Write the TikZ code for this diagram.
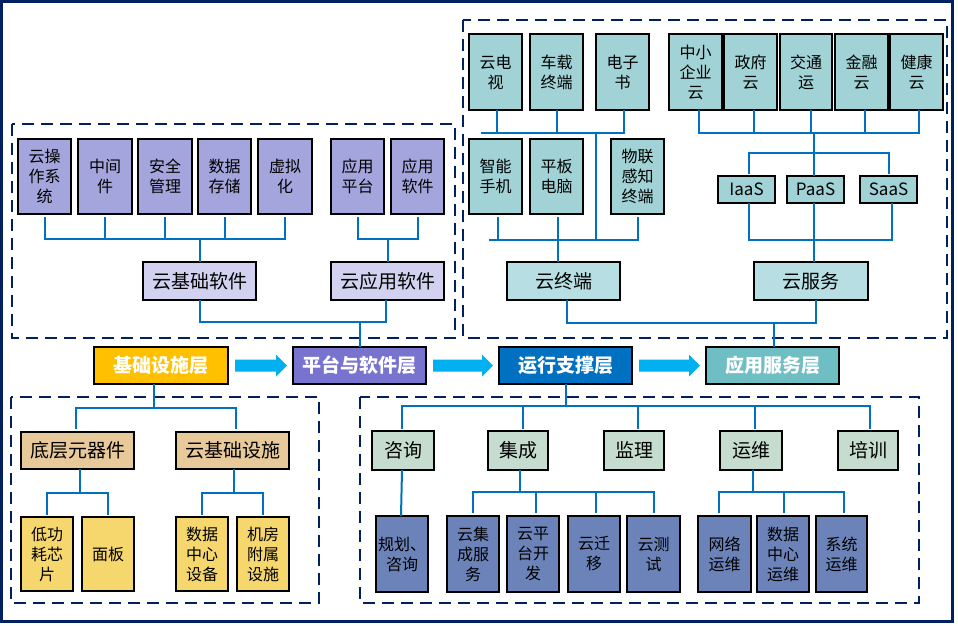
\documentclass[tikz,border=0pt]{standalone}
\usepackage{fontspec}
\setmainfont{Noto Sans CJK SC}
\usetikzlibrary{calc}
\definecolor{navy}{HTML}{002060}
\definecolor{connc}{HTML}{0070C0}
\definecolor{arrc}{HTML}{00B0F0}
\definecolor{lav}{HTML}{A5A5DE}
\definecolor{lavl}{HTML}{D2D2F0}
\definecolor{teal}{HTML}{A0D2D6}
\definecolor{teall}{HTML}{B7DEE3}
\definecolor{tan}{HTML}{E8C99A}
\definecolor{yel}{HTML}{F5D76E}
\definecolor{pgreen}{HTML}{C6DCCF}
\definecolor{slate}{HTML}{6B83B8}
\definecolor{cY}{HTML}{FFC000}
\definecolor{cP}{HTML}{7873CF}
\definecolor{cB}{HTML}{0070C0}
\definecolor{cT}{HTML}{6FBEC4}
\newcommand{\rbox}[7]{\node[#6, minimum width={#4-#2}, minimum height={#5-#3}] (#1) at ({(#2+#4)/2},{(#3+#5)/2}) {#7};}
\newcommand{\blkarrow}[2]{\fill[arrc] let \p1=(#1.east), \p2=(#2.west) in (\x1+7pt,\y1+6pt) -- (\x2-17pt,\y1+6pt) -- (\x2-17pt,\y1+11pt) -- (\x2-6pt,\y1) -- (\x2-17pt,\y1-11pt) -- (\x2-17pt,\y1-6pt) -- (\x1+7pt,\y1-6pt) -- cycle;}
\tikzset{
  base/.style={draw=black, line width=1.1pt, inner sep=0pt, outer sep=0pt, align=center, text=black},
  small/.style={base, font=\fontsize{16}{20}\selectfont},
  mid/.style={base, font=\fontsize{19}{22}\selectfont},
  lavbox/.style={small, fill=lav},
  lavmid/.style={mid, fill=lavl},
  tealbox/.style={small, fill=teal},
  tealmid/.style={mid, fill=teall},
  saasbox/.style={base, fill=teal, font=\fontsize{17}{20}\selectfont},
  tanmid/.style={mid, fill=tan},
  yelbox/.style={small, fill=yel},
  grnmid/.style={mid, fill=pgreen},
  slatebox/.style={small, fill=slate},
  layer/.style={base, text=white, font=\fontsize{19}{22}\selectfont\bfseries},
  conn/.style={draw=connc, line width=2pt},
  dashbox/.style={draw=navy, line width=2.2pt, dash pattern=on 12pt off 7pt},
}
\begin{document}
\begin{tikzpicture}[x=1pt,y=-1pt]
\useasboundingbox (0,0) rectangle (958,625);
\draw[navy, line width=3pt] (1.5,1.5) rectangle (952.5,621.5);
% dashed groups
\draw[dashbox] (12,124) rectangle (455,338);
\draw[dashbox] (463,20) rectangle (947,338);
\draw[dashbox] (11,397) rectangle (319,603);
\draw[dashbox] (360,397) rectangle (919,603);
% top-left
\rbox{os}{18}{139}{71}{214}{lavbox}{云操\\作系\\统}
\rbox{mw}{78}{139}{132}{214}{lavbox}{中间\\件}
\rbox{sec}{138}{139}{192}{214}{lavbox}{安全\\管理}
\rbox{sto}{198}{139}{251}{214}{lavbox}{数据\\存储}
\rbox{vir}{258}{139}{312}{214}{lavbox}{虚拟\\化}
\rbox{apf}{331}{139}{384}{214}{lavbox}{应用\\平台}
\rbox{asw}{391}{139}{444}{214}{lavbox}{应用\\软件}
\rbox{jcr}{143}{262}{256}{300}{lavmid}{云基础软件}
\rbox{yyr}{331}{262}{444}{300}{lavmid}{云应用软件}
% top-right
\rbox{tv}{469}{34}{522}{110}{tealbox}{云电\\视}
\rbox{car}{530}{34}{583}{110}{tealbox}{车载\\终端}
\rbox{ebk}{596}{34}{649}{110}{tealbox}{电子\\书}
\rbox{sme}{669}{34}{722}{110}{tealbox}{中小\\企业\\云}
\rbox{gov}{724}{34}{777}{110}{tealbox}{政府\\云}
\rbox{tra}{780}{34}{832}{110}{tealbox}{交通\\运}
\rbox{fin}{835}{34}{888}{110}{tealbox}{金融\\云}
\rbox{hlt}{890}{34}{943}{110}{tealbox}{健康\\云}
\rbox{phn}{469}{139}{522}{214}{tealbox}{智能\\手机}
\rbox{pad}{530}{139}{583}{214}{tealbox}{平板\\电脑}
\rbox{iot}{611}{139}{664}{214}{tealbox}{物联\\感知\\终端}
\rbox{iaas}{718}{176}{775}{203}{saasbox}{IaaS}
\rbox{paas}{787}{176}{844}{203}{saasbox}{PaaS}
\rbox{saas}{860}{176}{917}{203}{saasbox}{SaaS}
\rbox{ytm}{507}{262}{620}{300}{tealmid}{云终端}
\rbox{yfw}{754}{262}{868}{300}{tealmid}{云服务}
% layers
\rbox{ly1}{94}{347}{228}{384}{layer, fill=cY}{基础设施层}
\rbox{ly2}{293}{347}{426}{384}{layer, fill=cP}{平台与软件层}
\rbox{ly3}{499}{347}{632}{384}{layer, fill=cB}{运行支撑层}
\rbox{ly4}{706}{347}{839}{384}{layer, fill=cT}{应用服务层}
\blkarrow{ly1}{ly2}
\blkarrow{ly2}{ly3}
\blkarrow{ly3}{ly4}
% bottom-left
\rbox{dc}{21}{432}{134}{469}{tanmid}{底层元器件}
\rbox{jss}{176}{432}{289}{469}{tanmid}{云基础设施}
\rbox{chip}{21}{517}{73}{591}{yelbox}{低功\\耗芯\\片}
\rbox{pan}{82}{517}{134}{591}{yelbox}{面板}
\rbox{dcd}{176}{517}{228}{591}{yelbox}{数据\\中心\\设备}
\rbox{jf}{237}{517}{289}{591}{yelbox}{机房\\附属\\设施}
% bottom-right
\rbox{zx}{372}{431}{434}{470}{grnmid}{咨询}
\rbox{jch}{488}{431}{548}{470}{grnmid}{集成}
\rbox{jl}{604}{431}{664}{470}{grnmid}{监理}
\rbox{yw}{720}{431}{782}{470}{grnmid}{运维}
\rbox{px}{838}{431}{898}{470}{grnmid}{培训}
\rbox{gh}{376}{516}{428}{592}{slatebox}{规划、\\咨询}
\rbox{c1}{447}{516}{499}{592}{slatebox}{云集\\成服\\务}
\rbox{c2}{507}{516}{559}{592}{slatebox}{云平\\台开\\发}
\rbox{c3}{568}{516}{620}{592}{slatebox}{云迁\\移}
\rbox{c4}{627}{516}{680}{592}{slatebox}{云测\\试}
\rbox{o1}{698}{516}{751}{592}{slatebox}{网络\\运维}
\rbox{o2}{757}{516}{809}{592}{slatebox}{数据\\中心\\运维}
\rbox{o3}{816}{516}{867}{592}{slatebox}{系统\\运维}
% level coordinates
\coordinate (yA) at (0,239);
\coordinate (yB) at (0,322);
\coordinate (tL) at (481,133);
\coordinate (bL) at (489,240);
\coordinate (tM) at (0,153);
\coordinate (tR) at (0,323);
\coordinate (bA) at (0,408);
\coordinate (bB) at (0,493);
\coordinate (cA) at (0,406);
\coordinate (cB) at (0,492);
% connectors top-left
\draw[conn, shorten <=3pt, shorten >=3pt] (os.south) -- (os.south|-yA) -- (vir.south|-yA) -- (vir.south);
\foreach \n in {mw,sec,sto} \draw[conn, shorten <=3pt] (\n.south) -- (\n.south|-yA);
\draw[conn] (jcr.north) -- (jcr.north|-yA);
\draw[conn, shorten <=3pt, shorten >=3pt] (apf.south) -- (apf.south|-yA) -- (asw.south|-yA) -- (asw.south);
\draw[conn] (yyr.north) -- (yyr.north|-yA);
\draw[conn] (jcr.south) -- (jcr.south|-yB) -- ([xshift=-2pt]yyr.south|-yB) -- ([xshift=-2pt]yyr.south);
\draw[conn] (ly2.north) -- (ly2.north|-yB);
% connectors top-right
\draw[conn] (tL) -- ([xshift=1.5pt]ebk.south|-tL) -- ([xshift=1.5pt]ebk.south);
\draw[conn] ([xshift=1.5pt]tv.south) -- ([xshift=1.5pt]tv.south|-tL);
\draw[conn] (car.south) -- (car.south|-tL);
\draw[conn] (ebk.south west|-tL) -- (ebk.south west|-bL);
\draw[conn, shorten >=3pt] (bL) -- (iot.south|-bL) -- (iot.south);
\draw[conn, shorten <=3pt] ([xshift=2.5pt]phn.south) -- ([xshift=2.5pt]phn.south|-bL);
\draw[conn, shorten <=3pt] ([xshift=1.5pt]pad.south) -- ([xshift=1.5pt]pad.south|-ytm.north);
\draw[conn] ([xshift=3pt]sme.south) -- ([xshift=3pt]sme.south|-tL) -- ([xshift=2.5pt]hlt.south|-tL) -- ([xshift=2.5pt]hlt.south);
\foreach \n/\s in {gov/3.5,tra/5,fin/3.5} \draw[conn] ([xshift=\s pt]\n.south) -- ([xshift=\s pt]\n.south|-tL);
\draw[conn] ([xshift=-1.5pt]paas.north|-tL) -- ([xshift=-1.5pt]paas.north);
\draw[conn, shorten <=2pt, shorten >=2pt] ([xshift=2.5pt]iaas.north) -- ([xshift=2.5pt]iaas.north|-tM) -- (saas.north|-tM) -- (saas.north);
\draw[conn] ([xshift=2.5pt]iaas.south) -- ([xshift=2.5pt]iaas.south|-bL) -- ([xshift=3pt]saas.south|-bL) -- ([xshift=3pt]saas.south);
\draw[conn] ([xshift=-1.5pt]paas.south) -- ([xshift=-1.5pt]paas.south|-yfw.north);
\draw[conn] ([xshift=3.5pt]ytm.south) -- ([xshift=3.5pt]ytm.south|-tR) -- ([xshift=5pt]yfw.south|-tR) -- ([xshift=5pt]yfw.south);
\draw[conn] ([xshift=1.5pt]ly4.north) -- ([xshift=1.5pt]ly4.north|-tR);
% connectors bottom-left
\draw[conn] ([xshift=-7pt]ly1.south) -- ([xshift=-7pt]ly1.south|-bA);
\draw[conn, shorten <=3pt, shorten >=3pt] ([xshift=-1.5pt]dc.north) -- ([xshift=-1.5pt]dc.north|-bA) -- ([xshift=3.5pt]jss.north|-bA) -- ([xshift=3.5pt]jss.north);
\draw[conn] ([xshift=2.5pt]dc.south) -- ([xshift=2.5pt]dc.south|-bB);
\draw[conn, shorten <=2pt, shorten >=2pt] (chip.north) -- (chip.north|-bB) -- (pan.north|-bB) -- (pan.north);
\draw[conn] ([xshift=1.5pt]jss.south) -- ([xshift=1.5pt]jss.south|-bB);
\draw[conn, shorten <=2pt, shorten >=2pt] (dcd.north) -- (dcd.north|-bB) -- (jf.north|-bB) -- (jf.north);
% connectors bottom-right
\draw[conn] (ly3.south) -- (ly3.south|-cA);
\draw[conn, shorten <=2pt, shorten >=2pt] ([xshift=-1pt]zx.north) -- ([xshift=-1pt]zx.north|-cA) -- ([xshift=2pt]px.north|-cA) -- ([xshift=2pt]px.north);
\foreach \n/\s in {jch/5,jl/4,yw/4} \draw[conn, shorten <=2pt] ([xshift=\s pt]\n.north) -- ([xshift=\s pt]\n.north|-cA);
\draw[conn] ([xshift=-1pt]zx.south) -- ([xshift=-1pt]gh.north);
\draw[conn] ([xshift=2pt]jch.south) -- ([xshift=2pt]jch.south|-cB);
\draw[conn, shorten <=3pt, shorten >=3pt] (c1.north) -- (c1.north|-cB) -- (c4.north|-cB) -- (c4.north);
\foreach \n/\s in {c2/3,c3/2} \draw[conn, shorten <=3pt] ([xshift=\s pt]\n.north) -- ([xshift=\s pt]\n.north|-cB);
\draw[conn] ([xshift=2pt]yw.south) -- ([xshift=2pt]yw.south|-cB);
\draw[conn, shorten <=3pt, shorten >=3pt] ([xshift=-5.5pt]o1.north) -- ([xshift=-5.5pt]o1.north|-cB) -- ([xshift=2.5pt]o3.north|-cB) -- ([xshift=2.5pt]o3.north);
\draw[conn, shorten <=3pt] ([xshift=1pt]o2.north) -- ([xshift=1pt]o2.north|-cB);
\end{tikzpicture}
\end{document}
